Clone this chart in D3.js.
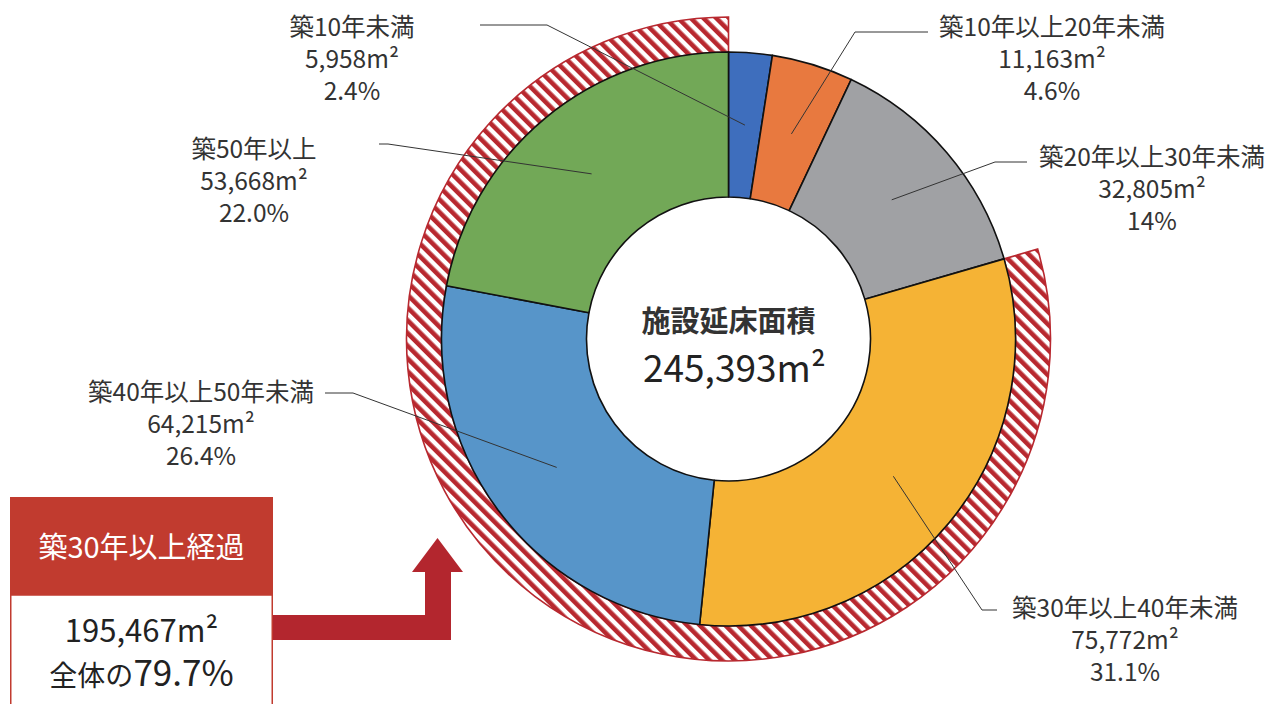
<!DOCTYPE html>
<html lang="ja">
<head>
<meta charset="utf-8">
<script src="https://cdn.jsdelivr.net/npm/d3@7"></script>
<style>
  html, body { margin: 0; padding: 0; background: #ffffff; }
  svg { display: block; }
  text { font-family: "Noto Sans CJK JP", "Noto Sans", sans-serif; }
</style>
</head>
<body>
<svg id="chart" width="1270" height="704"></svg>
<script>
// Floor area by building age
const categories = ["築10年未満", "築10年以上20年未満", "築20年以上30年未満", "築30年以上40年未満", "築40年以上50年未満", "築50年以上"];
const areas = [5958, 11163, 32805, 75772, 64215, 53668];
const shareLabels = ["2.4%", "4.6%", "14%", "31.1%", "26.4%", "22.0%"];
const sliceColors = ["#3e6ebd", "#e8793f", "#a0a1a4", "#f5b335", "#5795c9", "#72a857"];

const totalTitle = "施設延床面積";
const totalArea = 245393;
const agedTitle = "築30年以上経過";
const agedArea = 195467;
const agedShare = "79.7%";
const agedFirstIndex = 3; // slices from 築30年以上40年未満 onward

// layout
const cx = 728.5, cy = 339;
const rInner = 142, rOuter = 287, rHatch = 322;
const labelLayout = [
  { x: 352,  y: 36,  line: [[480, 25], [547, 25]] },
  { x: 1052, y: 36,  line: [[928, 32], [855, 32]] },
  { x: 1152, y: 166, line: [[1027, 162], [995, 162]] },
  { x: 1125, y: 617, line: [[997, 610], [982, 610]] },
  { x: 201,  y: 401, line: [[325, 393], [353, 393]] },
  { x: 254,  y: 158, line: [[379, 144], [388, 144]] }
];

const fmt = d3.format(",");
const svg = d3.select("#chart");

// diagonal hatch for the 30+ years ring
const defs = svg.append("defs");
const pat = defs.append("pattern")
  .attr("id", "hatch")
  .attr("patternUnits", "userSpaceOnUse")
  .attr("width", 9).attr("height", 9)
  .attr("patternTransform", "rotate(-45)");
pat.append("rect").attr("width", 9).attr("height", 9).attr("fill", "#ffffff");
pat.append("rect").attr("width", 4.6).attr("height", 9).attr("fill", "#b8282f");

const pie = d3.pie().sort(null).value(d => d).startAngle(0).endAngle(2 * Math.PI);
const arcs = pie(areas);
const arc = d3.arc().innerRadius(rInner).outerRadius(rOuter);

const g = svg.append("g").attr("transform", `translate(${cx},${cy})`);

// hatched ring
g.append("path")
  .attr("d", d3.arc().innerRadius(rOuter).outerRadius(rHatch)
    .startAngle(arcs[agedFirstIndex].startAngle).endAngle(2 * Math.PI)())
  .attr("fill", "url(#hatch)")
  .attr("stroke", "#b8282f")
  .attr("stroke-width", 1.6);

// donut slices
g.selectAll("path.slice")
  .data(arcs)
  .join("path")
  .attr("class", "slice")
  .attr("d", arc)
  .attr("fill", (d, i) => sliceColors[i])
  .attr("stroke", "#111111")
  .attr("stroke-width", 1.6)
  .attr("stroke-linejoin", "round");

// leader lines
const leaders = svg.append("g");
arcs.forEach((d, i) => {
  const c = arc.centroid(d);
  const pts = labelLayout[i].line.concat([[cx + c[0], cy + c[1]]]);
  leaders.append("path")
    .attr("d", d3.line()(pts))
    .attr("fill", "none")
    .attr("stroke", "#333333")
    .attr("stroke-width", 1);
});

// category labels
const labels = svg.append("g")
  .attr("fill", "#333333")
  .attr("font-size", 24.5)
  .attr("text-anchor", "middle");
categories.forEach((name, i) => {
  const L = labelLayout[i];
  const t = labels.append("text").attr("x", L.x).attr("y", L.y);
  [name, fmt(areas[i]) + "m²", shareLabels[i]].forEach((s, k) => {
    t.append("tspan").attr("x", L.x).attr("y", L.y + k * 32).text(s);
  });
});

// centre total
svg.append("text")
  .attr("x", cx).attr("y", 332)
  .attr("text-anchor", "middle")
  .attr("font-size", 29).attr("font-weight", 700)
  .attr("fill", "#333333")
  .text(totalTitle);
svg.append("text")
  .attr("x", cx + 6).attr("y", 382)
  .attr("text-anchor", "middle")
  .attr("font-size", 37).attr("font-weight", 400)
  .attr("fill", "#222222")
  .text(fmt(totalArea) + "m²");

// 30+ years summary box
const box = { x: 10, y: 497, w: 263, head: 98 };
svg.append("rect")
  .attr("x", box.x + 0.75).attr("y", box.y + box.head)
  .attr("width", box.w - 1.5).attr("height", 704 - box.y - box.head + 10)
  .attr("fill", "#ffffff").attr("stroke", "#c13b2f").attr("stroke-width", 1.5);
svg.append("rect")
  .attr("x", box.x).attr("y", box.y)
  .attr("width", box.w).attr("height", box.head)
  .attr("fill", "#c13b2f");
svg.append("text")
  .attr("x", box.x + box.w / 2).attr("y", 558)
  .attr("text-anchor", "middle")
  .attr("font-size", 29).attr("font-weight", 400)
  .attr("fill", "#ffffff")
  .text(agedTitle);
svg.append("text")
  .attr("x", box.x + box.w / 2).attr("y", 642)
  .attr("text-anchor", "middle")
  .attr("font-size", 31).attr("font-weight", 400)
  .attr("fill", "#222222")
  .text(fmt(agedArea) + "m²");
const shareText = svg.append("text")
  .attr("x", box.x + box.w / 2).attr("y", 686)
  .attr("text-anchor", "middle")
  .attr("fill", "#222222").attr("font-weight", 400);
shareText.append("tspan").attr("font-size", 28).text("全体の");
shareText.append("tspan").attr("font-size", 35).text(agedShare);

// elbow arrow pointing at the ring
const arrow = d3.path();
arrow.moveTo(273, 615);
arrow.lineTo(425, 615);
arrow.lineTo(425, 572);
arrow.lineTo(412, 572);
arrow.lineTo(437.5, 538);
arrow.lineTo(463, 572);
arrow.lineTo(451, 572);
arrow.lineTo(451, 640);
arrow.lineTo(273, 640);
arrow.closePath();
svg.append("path").attr("d", arrow.toString()).attr("fill", "#b3262e");
</script>
</body>
</html>
